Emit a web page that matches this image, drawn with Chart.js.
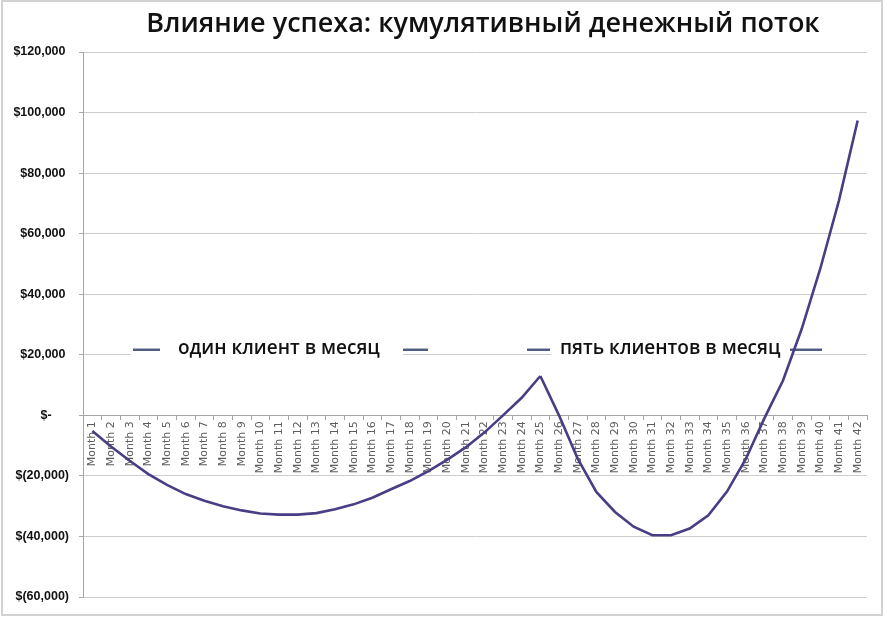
<!DOCTYPE html>
<html>
<head>
<meta charset="utf-8">
<script src="https://cdn.jsdelivr.net/npm/chart.js@4/dist/chart.umd.min.js"></script>
<style>
  html, body { margin: 0; padding: 0; background: #ffffff; }
  #wrap { width: 887px; height: 618px; position: relative; }
</style>
</head>
<body>
<div id="wrap"><canvas id="c" width="887" height="618"></canvas></div>
<script>
// ---- data ----
const titleText = 'Влияние успеха: кумулятивный денежный поток';
const seriesNames = ['один клиент в месяц', 'пять клиентов в месяц'];
const months = ['Month 1','Month 2','Month 3','Month 4','Month 5','Month 6','Month 7',
  'Month 8','Month 9','Month 10','Month 11','Month 12','Month 13','Month 14','Month 15',
  'Month 16','Month 17','Month 18','Month 19','Month 20','Month 21','Month 22','Month 23',
  'Month 24','Month 25','Month 26','Month 27','Month 28','Month 29','Month 30','Month 31',
  'Month 32','Month 33','Month 34','Month 35','Month 36','Month 37','Month 38','Month 39',
  'Month 40','Month 41','Month 42'];
// cumulative cash flow, months 1..25
const oneClient = [-5200,-10300,-15000,-19400,-23000,-26000,-28200,-30000,-31400,-32400,
  -32800,-32800,-32300,-31000,-29400,-27200,-24400,-21700,-18400,-14700,-10600,-5700,0,5800,13000];
// cumulative cash flow, months 25..42
const fiveClients = [13000,0,-14300,-25300,-31900,-36800,-39600,-39600,-37400,-33000,
  -25200,-14500,-1000,11500,28500,48500,71000,97400];
const yMin = -60000, yMax = 120000, yStep = 20000;

// ---- build datasets ----
const ds1 = months.map((m, i) => i < oneClient.length ? oneClient[i] : null);
const startFive = months.length - fiveClients.length;
const ds2 = months.map((m, i) => i >= startFive ? fiveClients[i - startFive] : null);

const lineColor = '#4b3d84';
const legendDashColor = '#4f5d80';

function fmtAcc(v) {
  if (v === 0) return '$-\u2007\u2007\u2008';
  const s = Math.abs(v).toLocaleString('en-US');
  return v < 0 ? '$(' + s + ')' : '$' + s + '\u2008';
}

const decorPlugin = {
  id: 'decor',
  beforeDatasetsDraw(chart) {
    const ctx = chart.ctx;
    const y = chart.scales.y.getPixelForValue(20000) - 5;
    ctx.save();
    ctx.fillStyle = '#ffffff';
    ctx.fillRect(131, y - 14, 272, 28);
    ctx.fillRect(551, y - 14, 240, 28);
    ctx.strokeStyle = legendDashColor;
    ctx.lineWidth = 2.5;
    const dashes = [[133,160],[403,428],[527,550],[790,822]];
    dashes.forEach(d => { ctx.beginPath(); ctx.moveTo(d[0], y); ctx.lineTo(d[1], y); ctx.stroke(); });
    ctx.fillStyle = '#111111';
    ctx.font = '600 19px "Open Sans", sans-serif';
    ctx.textBaseline = 'middle';
    ctx.textAlign = 'left';
    ctx.fillText(seriesNames[0], 178, y - 1);
    ctx.fillText(seriesNames[1], 560, y - 1);
    ctx.restore();
  },
  afterDraw(chart) {
    const ctx = chart.ctx;
    ctx.save();
    ctx.fillStyle = '#111111';
    ctx.font = '600 27px "Open Sans", sans-serif';
    ctx.textAlign = 'center';
    ctx.textBaseline = 'middle';
    ctx.fillText(titleText, 483, 24);
    ctx.strokeStyle = '#d2d2d2';
    ctx.lineWidth = 2;
    ctx.strokeRect(2, 1, 880, 614);
    ctx.restore();
  }
};

new Chart(document.getElementById('c'), {
  type: 'line',
  data: {
    labels: months,
    datasets: [
      { label: seriesNames[0], data: ds1, borderColor: lineColor, backgroundColor: lineColor,
        borderWidth: 2.6, pointRadius: 0, tension: 0, spanGaps: false },
      { label: seriesNames[1], data: ds2, borderColor: lineColor, backgroundColor: lineColor,
        borderWidth: 2.6, pointRadius: 0, tension: 0, spanGaps: false }
    ]
  },
  options: {
    responsive: false,
    animation: false,
    layout: { padding: { top: 52, bottom: 21, left: 0, right: 20 } },
    plugins: { legend: { display: false }, title: { display: false }, tooltip: { enabled: false } },
    scales: {
      x: {
        type: 'category',
        position: { y: 0 },
        offset: true,
        grid: { display: true, drawOnChartArea: false, drawTicks: true, tickLength: 4,
                offset: true, color: '#a6a6a6' },
        border: { display: true, color: '#a6a6a6', width: 1 },
        ticks: { autoSkip: false, maxRotation: 90, minRotation: 90, padding: 2,
                 color: '#5e5e5e', font: { family: '"DejaVu Sans", sans-serif', size: 11 } }
      },
      y: {
        min: yMin, max: yMax,
        afterFit(scale) { scale.width = 83; },
        grid: { color: '#cdcdcd', lineWidth: 1, drawTicks: true, tickLength: 4, tickColor: '#a6a6a6' },
        border: { display: true, color: '#a6a6a6', width: 1 },
        ticks: { stepSize: yStep, padding: 10, color: '#111111',
                 font: { family: '"Liberation Sans", sans-serif', size: 12.5, weight: 'bold' },
                 callback: v => fmtAcc(v) }
      }
    }
  },
  plugins: [decorPlugin]
});
</script>
</body>
</html>
